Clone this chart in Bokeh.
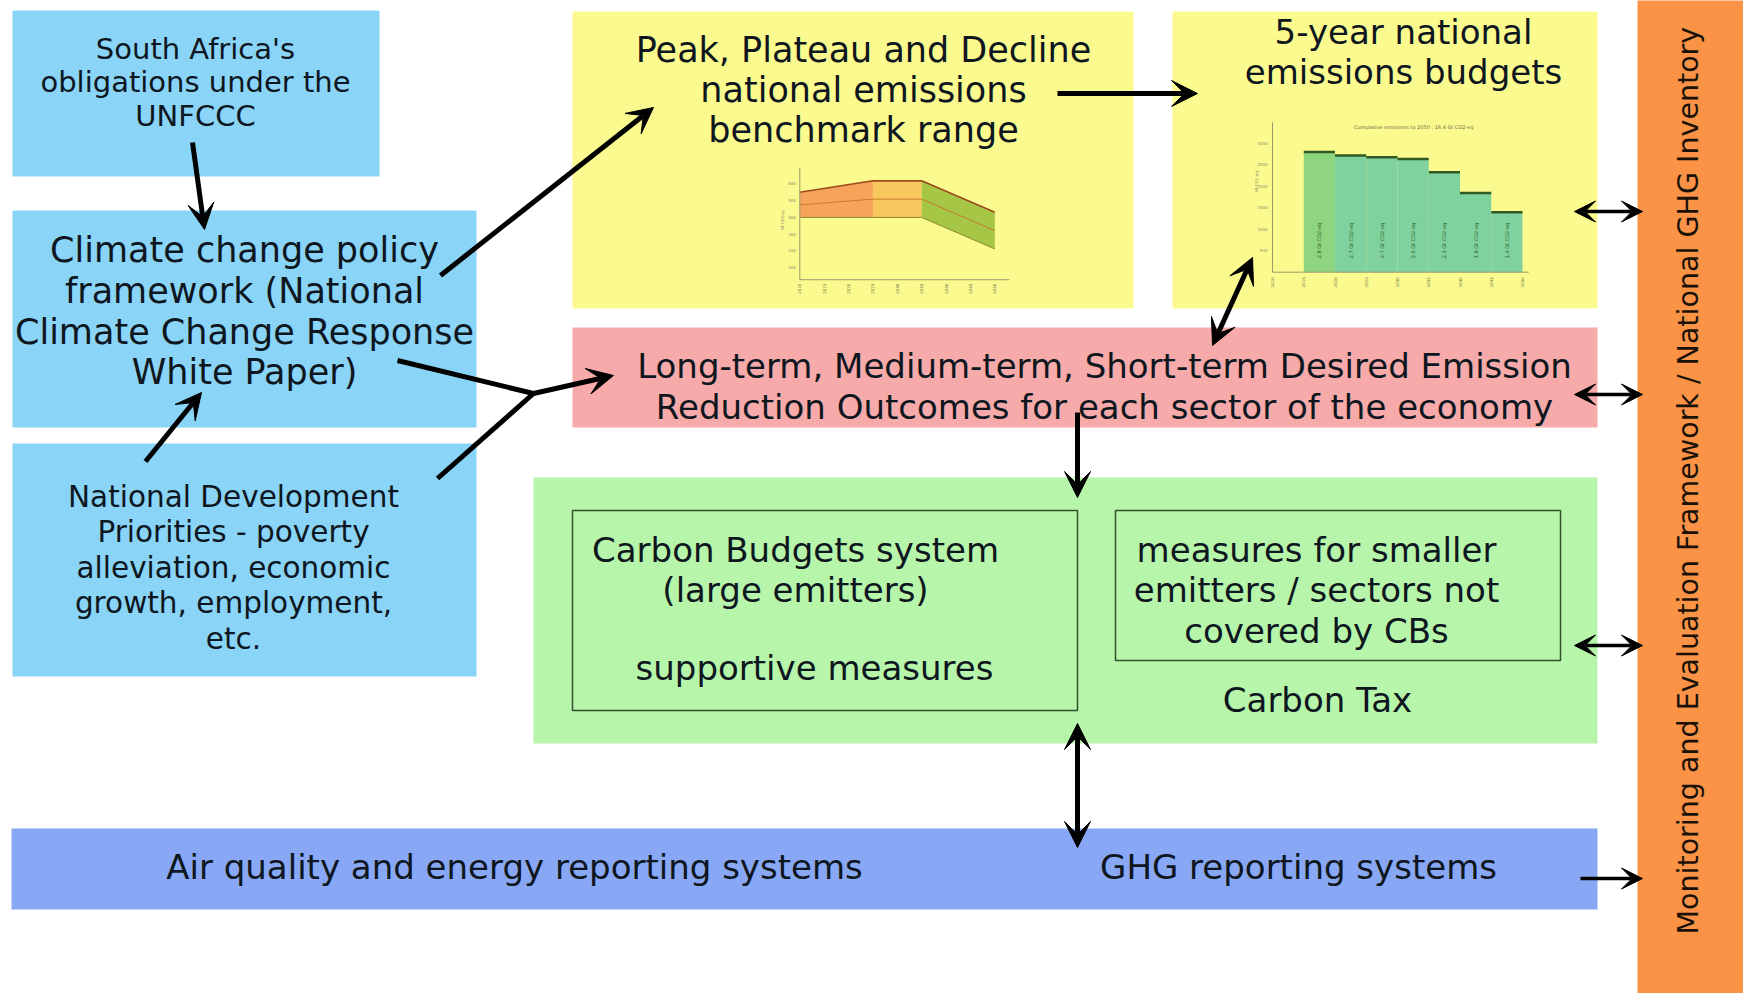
import math
from bokeh.plotting import figure
from bokeh.models import Range1d, Arrow, VeeHead
from bokeh.core.properties import value
from bokeh.embed import file_html
from bokeh.resources import INLINE

# ---------------- data ----------------
# Peak, Plateau and Decline benchmark range (Mt CO2-eq)
ppd_years = [2010, 2025, 2035, 2050]
ppd_upper = [547, 614, 614, 428]
ppd_lower = [398, 398, 398, 212]
ppd_mid = [472, 506, 506, 320]
ppd_xticks = [2010, 2015, 2020, 2025, 2030, 2035, 2040, 2045, 2050]
ppd_yticks = [100, 200, 300, 400, 500, 600]
ppd_ylabel = "Mt CO2eq"

# 5-year national emissions budgets (Mt CO2-eq per period)
budget_starts = [2015, 2020, 2025, 2030, 2035, 2040, 2045]
budget_ends = [2020, 2025, 2030, 2035, 2040, 2045, 2050]
budget_values = [2790, 2710, 2670, 2630, 2320, 1840, 1390]
budget_labels = ["2.8 Gt CO2-eq", "2.7 Gt CO2-eq", "2.7 Gt CO2-eq", "2.6 Gt CO2-eq",
                 "2.3 Gt CO2-eq", "1.8 Gt CO2-eq", "1.4 Gt CO2-eq"]
budget_xticks = [2010, 2015, 2020, 2025, 2030, 2035, 2040, 2045, 2050]
budget_yticks = [500, 1000, 1500, 2000, 2500, 3000]
budget_title = "Cumulative emissions to 2050 : 16.4 Gt CO2-eq"
budget_ylabel = "Mt CO2-eq"

# Diagram texts
txt_sa = ["South Africa's", "obligations under the", "UNFCCC"]
txt_policy = ["Climate change policy", "framework (National", "Climate Change Response", "White Paper)"]
txt_ndp = ["National Development", "Priorities - poverty", "alleviation, economic", "growth, employment,", "etc."]
txt_ppd = ["Peak, Plateau and Decline", "national emissions", "benchmark range"]
txt_budget = ["5-year national", "emissions budgets"]
txt_outcomes = ["Long-term, Medium-term, Short-term Desired Emission",
                "Reduction Outcomes for each sector of the economy"]
txt_cb = ["Carbon Budgets system", "(large emitters)"]
txt_support = ["supportive measures"]
txt_small = ["measures for smaller", "emitters / sectors not", "covered by CBs"]
txt_tax = ["Carbon Tax"]
txt_air = ["Air quality and energy reporting systems"]
txt_ghg = ["GHG reporting systems"]
txt_me = ["Monitoring and Evaluation Framework / National GHG Inventory"]

# ---------------- styles / layout ----------------
FONT = value("DejaVu Sans")
TXT = "#0e1620"
C_BLUE = "#89d4f7"
C_YEL = "#fbfa8e"
C_PINK = "#f6aaa9"
C_GREEN = "#b6f5aa"
C_BAR = "#88a8f5"
C_ORANGE = "#fb9347"

W, H = 1743, 993
p = figure(width=W, height=H, x_range=Range1d(0, W), y_range=Range1d(H, 0),
           output_backend="svg", toolbar_location=None, min_border=0,
           x_axis_location=None, y_axis_location=None,
           outline_line_color=None, background_fill_color="white", border_fill_color="white")
p.grid.visible = False


def box(l, r, t, b, color):
    p.quad(left=[l], right=[r], top=[t], bottom=[b], fill_color=color, line_color=None)


box(12, 379, 10, 176, C_BLUE)
box(12, 476, 210, 427, C_BLUE)
box(12, 476, 443, 676, C_BLUE)
box(572, 1133, 11, 308, C_YEL)
box(1172, 1597, 11, 308, C_YEL)
box(572, 1597, 327, 427, C_PINK)
box(533, 1597, 477, 743, C_GREEN)
box(11, 1597, 828, 909, C_BAR)
box(1637, 1760, -10, 1010, C_ORANGE)

# inner frames
p.quad(left=[572, 1115], right=[1077, 1560], top=[510, 510], bottom=[710, 660],
       fill_color=None, line_color="#33502c", line_width=1.5)


def lines(texts, cx, ys, size):
    p.text(x=[cx] * len(texts), y=ys, text=texts, text_align="center", text_baseline="middle",
           text_font=FONT, text_font_size=size, text_color=TXT)


lines(txt_sa, 195, [48, 81, 115], "29px")
lines(txt_policy, 244, [249, 290, 331, 371], "35px")
lines(txt_ndp, 233, [496, 531, 567, 602, 638], "29.5px")
lines(txt_ppd, 863, [49, 89, 129], "35px")
lines(txt_budget, 1403, [31, 71], "34px")
lines(txt_outcomes, 1104, [365, 406], "34px")
lines(txt_cb, 795, [549, 589], "34px")
lines(txt_support, 814, [667], "34px")
lines(txt_small, 1316, [549, 589, 630], "34px")
lines(txt_tax, 1317, [699], "34px")
lines(txt_air, 514, [866], "34px")
lines(txt_ghg, 1298, [866], "34px")
p.text(x=[1688], y=[934], text=txt_me, angle=math.pi / 2, text_align="left", text_baseline="middle",
       text_font=FONT, text_font_size="28.5px", text_color="#1a1208")


# ---------------- mini charts via extra ranges ----------------
def make_range(v1, p1, v2, p2, lo_pix, hi_pix):
    k = (p2 - p1) / (v2 - v1)
    return Range1d(v1 + (lo_pix - p1) / k, v1 + (hi_pix - p1) / k)


p.extra_x_ranges = {
    "c1x": make_range(2010, 799.3, 2050, 994.3, 0, W),
    "c2x": make_range(2010, 1272.0, 2050, 1522.0, 0, W),
}
p.extra_y_ranges = {
    "c1y": make_range(0, 284.3, 600, 182.7, H, 0),
    "c2y": make_range(0, 271.7, 3000, 142.5, H, 0),
}
R1 = dict(x_range_name="c1x", y_range_name="c1y")
R2 = dict(x_range_name="c2x", y_range_name="c2y")
AX = "#9a9a70"
TICKC = "#8a8a6a"

# chart 1: PPD range
seg_fill = ["#f6a45b", "#f8c85e", "#a6c646"]
for i in range(3):
    p.varea(x=ppd_years[i:i + 2], y1=ppd_lower[i:i + 2], y2=ppd_upper[i:i + 2],
            fill_color=seg_fill[i], **R1)
p.line(ppd_years, ppd_upper, line_color="#9b4a1c", line_width=1.6, **R1)
p.line(ppd_years, ppd_mid, line_color="#c9792c", line_width=1, **R1)
p.line(ppd_years, ppd_lower, line_color="#8d8a2a", line_width=1, **R1)
p.segment(x0=[ppd_xticks[0]], y0=[30], x1=[ppd_xticks[-1] + 3], y1=[30], line_color=AX, line_width=1, **R1)
p.segment(x0=[ppd_xticks[0]], y0=[30], x1=[ppd_xticks[0]], y1=[690], line_color=AX, line_width=1, **R1)
p.text(x=[ppd_xticks[0]] * len(ppd_yticks), y=ppd_yticks, text=[str(v) for v in ppd_yticks],
       x_offset=-4, text_align="right", text_baseline="middle", text_font=FONT,
       text_font_size="4px", text_color=TICKC, **R1)
p.text(x=ppd_xticks, y=[30] * len(ppd_xticks), text=[str(v) for v in ppd_xticks],
       y_offset=4, angle=math.pi / 2, text_align="right", text_baseline="middle", text_font=FONT,
       text_font_size="4px", text_color="#6a6a4a", **R1)
p.text(x=[ppd_xticks[0] - 3.5], y=[380], text=[ppd_ylabel], angle=math.pi / 2, text_align="center",
       text_baseline="middle", text_font=FONT, text_font_size="4px", text_color=TICKC, **R1)

# chart 2: 5-year budgets
bar_fill = ["#8fd57f"] + ["#7fd29d"] * (len(budget_values) - 1)
p.quad(left=budget_starts, right=budget_ends, bottom=[0] * len(budget_values), top=budget_values,
       fill_color=bar_fill, line_color=None, **R2)
p.segment(x0=budget_starts, y0=budget_values, x1=budget_ends, y1=budget_values,
          line_color="#2f5a22", line_width=2.5, **R2)
p.segment(x0=[budget_xticks[0]], y0=[0], x1=[budget_xticks[-1] + 1], y1=[0], line_color=AX, line_width=1, **R2)
p.segment(x0=[budget_xticks[0]], y0=[0], x1=[budget_xticks[0]], y1=[3480], line_color=AX, line_width=1, **R2)
p.text(x=[budget_xticks[0]] * len(budget_yticks), y=budget_yticks, text=[str(v) for v in budget_yticks],
       x_offset=-5, text_align="right", text_baseline="middle", text_font=FONT,
       text_font_size="4px", text_color=TICKC, **R2)
p.text(x=budget_xticks, y=[0] * len(budget_xticks), text=[str(v) for v in budget_xticks],
       y_offset=5, angle=math.pi / 2, text_align="right", text_baseline="middle", text_font=FONT,
       text_font_size="4px", text_color="#6a6a4a", **R2)
p.text(x=[(s + e) / 2 for s, e in zip(budget_starts, budget_ends)], y=[735] * len(budget_values),
       text=budget_labels, angle=math.pi / 2, text_align="center", text_baseline="middle",
       text_font=FONT, text_font_size="5px", text_color="#2c5a1c", **R2)
p.text(x=[2032.6], y=[3380], text=[budget_title], text_align="center", text_baseline="middle",
       text_font=FONT, text_font_size="5px", text_color="#6a6a4a", **R2)
p.text(x=[budget_xticks[0] - 2.5], y=[2100], text=[budget_ylabel], angle=math.pi / 2, text_align="center",
       text_baseline="middle", text_font=FONT, text_font_size="4px", text_color=TICKC, **R2)

# ---------------- arrows ----------------
def head(sz):
    return VeeHead(size=sz, fill_color="black", line_color="black", line_width=1)


def arrow(x0, y0, x1, y1, both=False, lw=5, sz=26):
    p.add_layout(Arrow(start=head(sz) if both else None, end=head(sz),
                       x_start=x0, y_start=y0, x_end=x1, y_end=y1,
                       line_color="black", line_width=lw))


arrow(192, 142, 204, 229)
arrow(145, 461, 201, 392)
arrow(440, 275, 653, 107)
p.multi_line(xs=[[397, 533], [437, 533]], ys=[[360, 393], [478, 393]], line_color="black", line_width=5)
arrow(533, 393, 613, 375)
arrow(1057, 93, 1197, 93)
arrow(1212, 345, 1252, 257, both=True)
arrow(1077, 412, 1077, 497)
arrow(1077, 723, 1077, 847, both=True)
for yy in [211, 394, 645]:
    arrow(1574, yy, 1642, yy, both=True, lw=3.5, sz=21)
arrow(1580, 878, 1642, 878, lw=3.5, sz=21)

open("out.html", "w").write(file_html(p, INLINE))
